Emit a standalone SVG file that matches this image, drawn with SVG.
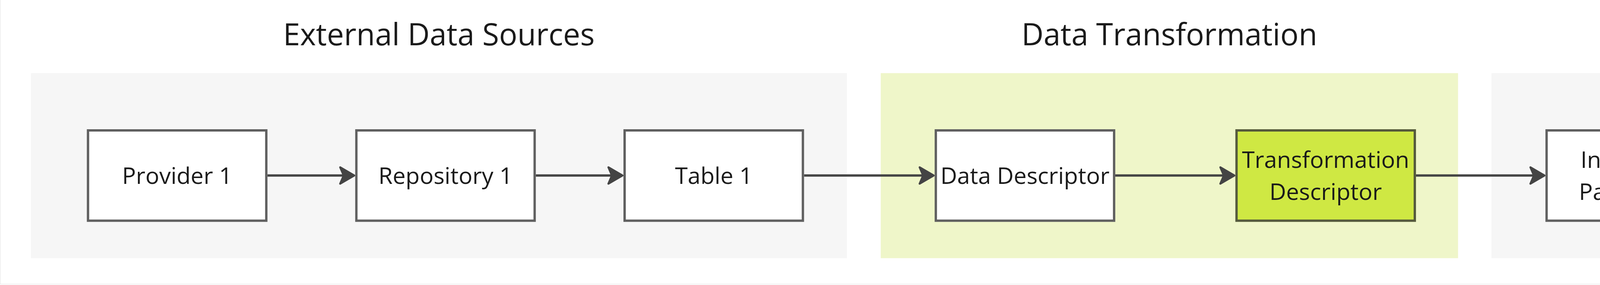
<svg xmlns="http://www.w3.org/2000/svg" width="5479" height="730" viewBox="0 0 5479 730">
<style>
.title{font-family:"Open Sans","Noto Sans","Liberation Sans",sans-serif;font-size:78px;fill:#1a1a1a;text-anchor:middle}
.lbl{font-family:"Open Sans","Noto Sans","Liberation Sans",sans-serif;font-size:59px;fill:#1a1a1a;text-anchor:middle}
.grp{fill:#f6f6f6}
.grpg{fill:#eff6c9}
.box{fill:#ffffff;stroke:#606060;stroke-width:6}
.boxg{fill:#cfe843;stroke:#555a3c;stroke-width:6}
.conn{stroke:#444444;stroke-width:6;fill:none;marker-end:url(#arr)}
</style>
<defs>
<marker id="arr" markerUnits="userSpaceOnUse" viewBox="-15 -27 48 54" markerWidth="48" markerHeight="54" refX="0" refY="0" orient="auto">
<path d="M27,0 L-9,-21 L0,0 L-9,21 Z" fill="#444444" stroke="#444444" stroke-width="5" stroke-linejoin="round"/>
</marker>
</defs>
<rect x="0" y="0" width="5479" height="730" fill="#ffffff"/>
<path d="M0.75,0 V727.5 H5479" fill="none" stroke="#ebebeb" stroke-width="1.5"/>
<g id="group-external">
<rect class="grp" x="79.3" y="187.3" width="2088.7" height="474"/>
<text class="title" x="1123.6" y="115.5">External Data Sources</text>
</g>
<g id="group-transformation">
<rect class="grpg" x="2254.7" y="187.3" width="1477.9" height="474"/>
<text class="title" x="2993.6" y="115.5">Data Transformation</text>
</g>
<g id="group-data">
<rect class="grp" x="3818.3" y="187.3" width="714.8" height="474"/>
<text class="title" x="4190" y="115.5">Data</text>
</g>
<g id="group-model">
<rect class="grp" x="4619.2" y="187.3" width="761.1" height="474"/>
<text class="title" x="5000" y="115.5">Model</text>
</g>
<g id="connectors">
<line class="conn" x1="684.7" y1="449.5" x2="879.8" y2="449.5"/>
<line class="conn" x1="1371.7" y1="449.5" x2="1566.5" y2="449.5"/>
<line class="conn" x1="2058.4" y1="449.5" x2="2363.2" y2="449.5"/>
<line class="conn" x1="2855.1" y1="449.5" x2="3133" y2="449.5"/>
<line class="conn" x1="3624.9" y1="449.5" x2="3926.8" y2="449.5"/>
<line class="conn" x1="4418.7" y1="449.5" x2="4753.9" y2="449.5"/>
</g>
<g id="node-provider1">
<rect class="box" x="225.3" y="334" width="456.4" height="231.3"/>
<text class="lbl" x="453.5" y="470.5">Provider 1</text>
</g>
<g id="node-repository1">
<rect class="box" x="912.3" y="334" width="456.4" height="231.3"/>
<text class="lbl" x="1140.5" y="470.5">Repository 1</text>
</g>
<g id="node-table1">
<rect class="box" x="1599" y="334" width="456.4" height="231.3"/>
<text class="lbl" x="1827.2" y="470.5">Table 1</text>
</g>
<g id="node-data-descriptor">
<rect class="box" x="2395.7" y="334" width="456.4" height="231.3"/>
<text class="lbl" x="2623.9" y="470.5">Data Descriptor</text>
</g>
<g id="node-transformation-descriptor">
<rect class="boxg" x="3165.5" y="334" width="456.4" height="231.3"/>
<text class="lbl" x="3393.7" y="430">Transformation</text>
<text class="lbl" x="3393.7" y="511.7">Descriptor</text>
</g>
<g id="node-indicator-parameter">
<rect class="box" x="3959.3" y="334" width="456.4" height="231.3"/>
<text class="lbl" x="4187.5" y="430">Indicator /</text>
<text class="lbl" x="4187.5" y="511.7">Parameter</text>
</g>
<g id="node-model">
<rect class="box" x="4786.4" y="334" width="456.4" height="231.3"/>
<text class="lbl" x="5014.6" y="470.5">Model</text>
</g>
</svg>
